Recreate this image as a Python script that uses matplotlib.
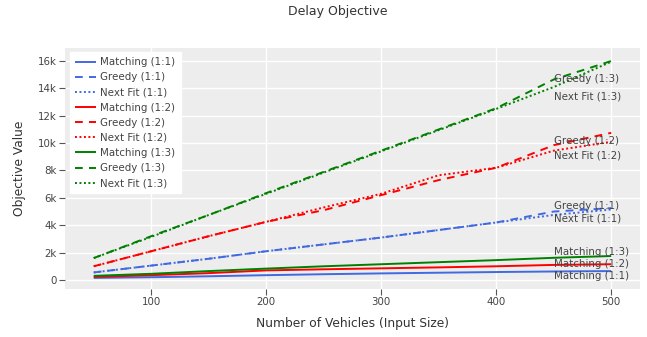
import matplotlib
matplotlib.use("Agg")
import matplotlib.pyplot as plt
from matplotlib.ticker import FuncFormatter, MultipleLocator

plt.rcParams['font.family'] = ['DejaVu Sans']

vehicles = [50, 100, 150, 200, 250, 300, 350, 400, 450, 500]

matching_11 = [150, 200, 270, 350, 420, 480, 530, 580, 620, 650]
greedy_11 = [550, 1050, 1550, 2100, 2600, 3100, 3650, 4200, 5000, 5250]
nextfit_11 = [550, 1050, 1550, 2100, 2600, 3100, 3650, 4200, 4750, 5150]

matching_12 = [220, 350, 500, 700, 780, 850, 920, 1000, 1100, 1150]
greedy_12 = [1000, 2100, 3200, 4250, 5100, 6200, 7300, 8200, 9850, 10750]
nextfit_12 = [1000, 2100, 3200, 4250, 5300, 6300, 7650, 8200, 9450, 10100]

matching_13 = [300, 450, 650, 830, 1000, 1150, 1300, 1450, 1620, 1750]
greedy_13 = [1600, 3200, 4750, 6350, 7900, 9450, 11000, 12550, 14650, 16000]
nextfit_13 = [1600, 3150, 4750, 6300, 7850, 9400, 10950, 12500, 14100, 15950]

series_names = ["Matching (1:1)", "Greedy (1:1)", "Next Fit (1:1)",
                "Matching (1:2)", "Greedy (1:2)", "Next Fit (1:2)",
                "Matching (1:3)", "Greedy (1:3)", "Next Fit (1:3)"]
series_values = [matching_11, greedy_11, nextfit_11,
                 matching_12, greedy_12, nextfit_12,
                 matching_13, greedy_13, nextfit_13]

title = "Delay Objective"
x_label = "Number of Vehicles (Input Size)"
y_label = "Objective Value"

# layout (styles / label placement)
colors = ["#4169E1"] * 3 + ["#FF0000"] * 3 + ["#008000"] * 3
styles = ["solid", "dash", "dot"] * 3
label_x = 450
label_y = [290, 5400, 4460, 1170, 10150, 9060, 2050, 14680, 13440]

W, H = 647, 337
fig = plt.figure(figsize=(W / 100, H / 100), dpi=100)
ax = fig.add_axes([65 / W, 1 - 289 / H, (640 - 65) / W, (289 - 48) / H])
ax.set_facecolor("#EDEDED")
for s in ax.spines.values():
    s.set_visible(False)

lw = 1.4
for name, vals, c, st in zip(series_names, series_values, colors, styles):
    if st == "solid":
        ax.plot(vehicles, vals, color=c, lw=lw, label=name, solid_capstyle="butt")
    elif st == "dash":
        ax.plot(vehicles, vals, color=c, lw=lw, label=name, dashes=(4.0, 3.2))
    else:
        ax.plot(vehicles, vals, color=c, lw=lw, label=name, dashes=(1.0, 1.3))

fs = 7.4
for name, ly in zip(series_names, label_y):
    ax.text(label_x, ly, name, ha="left", va="center", fontsize=fs,
            color="#444444")

ax.set_xlim(25, 525)
ax.set_ylim(-660, 16950)
ax.xaxis.set_major_locator(MultipleLocator(100))
ax.yaxis.set_major_locator(MultipleLocator(2000))
ax.yaxis.set_major_formatter(FuncFormatter(lambda v, p: "0" if v == 0 else f"{int(v/1000)}k"))
ax.grid(True, color="white", lw=1)
ax.set_axisbelow(True)
ax.tick_params(axis="both", length=4, width=0.8, color="#555555",
               labelcolor="#444444", labelsize=fs, pad=2)

fig.text(338 / W, 1 - 12 / H, title, ha="center", va="center", fontsize=9.0,
         color="#333333")
fig.text(352 / W, 1 - 323 / H, x_label, ha="center", va="center", fontsize=8.8,
         color="#333333")
fig.text(20 / W, 1 - 168 / H, y_label, ha="center", va="center", fontsize=8.8,
         color="#333333", rotation=90)

leg = ax.legend(loc="upper left", bbox_to_anchor=(5 / 575, 1 - 4 / 241),
                frameon=True, fancybox=False, framealpha=1, edgecolor="white",
                facecolor="white", fontsize=fs, handlelength=2.0,
                handletextpad=0.45, labelspacing=0.5, borderpad=0.5,
                borderaxespad=0)
for t in leg.get_texts():
    t.set_color("#444444")

fig.savefig("out.png", dpi=100)
